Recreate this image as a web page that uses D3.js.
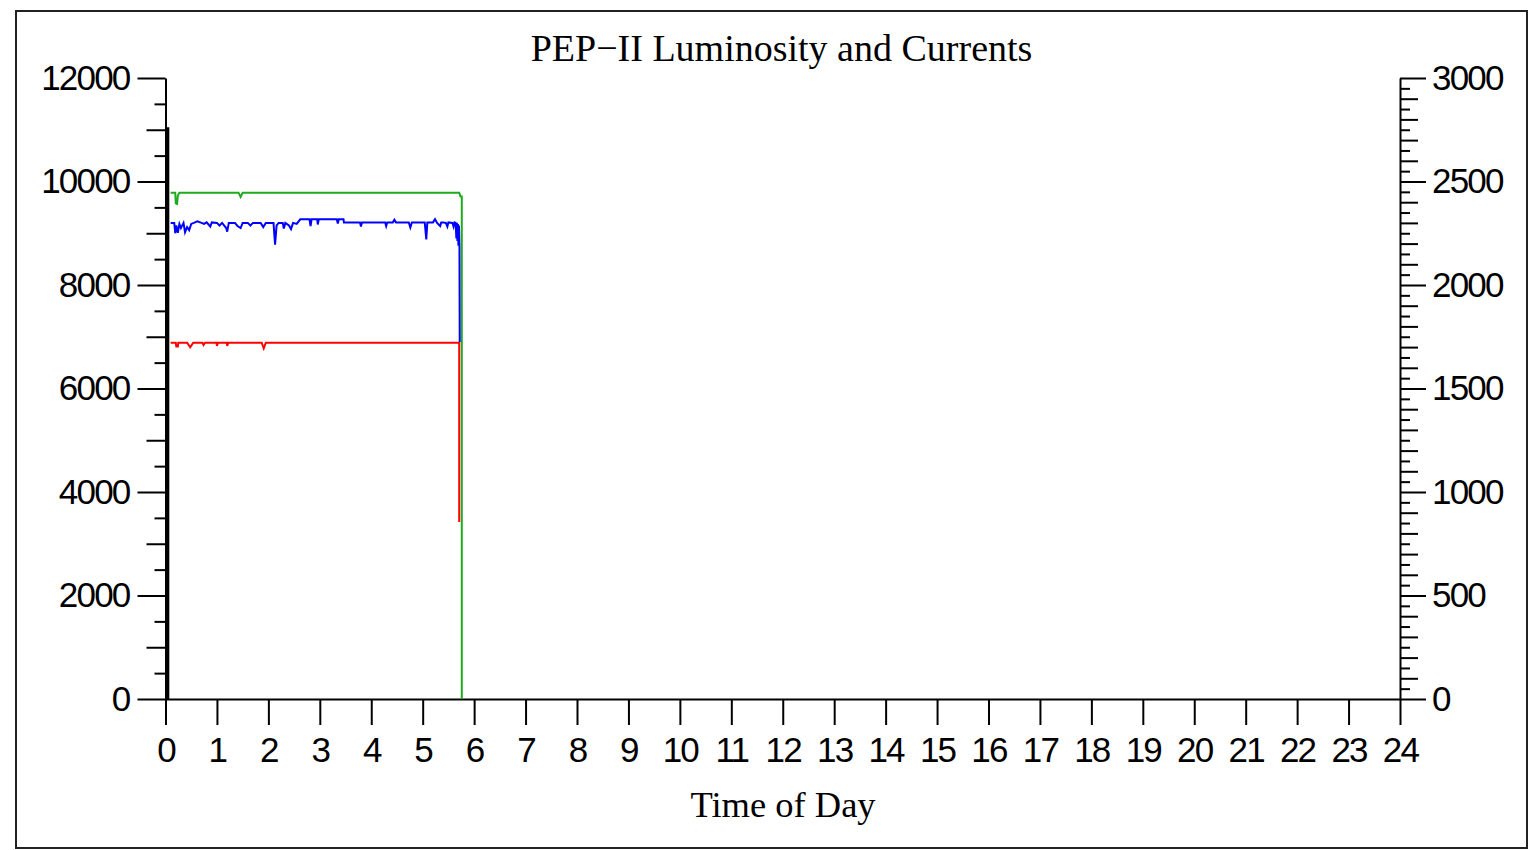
<!DOCTYPE html>
<html>
<head>
<meta charset="utf-8">
<script src="https://cdn.jsdelivr.net/npm/d3@7"></script>
<style>
  html, body { margin: 0; padding: 0; background: #fff; }
  svg { display: block; }
  .tick text { font-family: "Liberation Sans", Arial, sans-serif; font-size: 35px; letter-spacing: -1.8px; fill: #000; }
  .domain, .tick line { stroke: #000; stroke-width: 2; }
</style>
</head>
<body>
<script>
// ---------------- data ----------------
const title = "PEP\u2212II Luminosity and Currents";
const xTitle = "Time of Day";
const xTicks = d3.range(0, 25);              // hours 0..24
const leftTicks = [0, 2000, 4000, 6000, 8000, 10000, 12000];
const rightTicks = [0, 500, 1000, 1500, 2000, 2500, 3000];

// luminosity (left axis) - blue
const lumT = [0.10,0.17,0.19,0.21,0.24,0.27,0.30,0.35,0.38,0.42,0.46,0.50,0.55,0.62,0.70,0.75,0.80,0.87,0.90,1.00,1.05,1.10,1.18,1.20,1.23,1.35,1.40,1.46,1.50,1.60,1.65,1.70,1.85,1.90,1.95,2.10,2.13,2.16,2.20,2.28,2.30,2.33,2.40,2.44,2.48,2.55,2.62,2.80,2.82,2.84,2.95,2.96,2.98,3.33,3.35,3.37,3.46,3.47,3.78,3.80,3.82,4.27,4.29,4.31,4.42,4.45,4.48,4.73,4.76,4.79,5.04,5.07,5.09,5.20,5.24,5.28,5.34,5.36,5.40,5.45,5.48,5.50,5.58,5.60,5.62,5.64,5.655,5.665,5.675,5.685,5.695,5.705,5.715,5.72];
const lumV = [9200,9200,9000,9150,9010,9180,9100,9200,9020,9120,9060,9180,9200,9230,9200,9180,9210,9130,9210,9200,9150,9200,9100,9030,9200,9200,9140,9100,9200,9200,9150,9200,9200,9120,9200,9200,8780,9150,9200,9200,9090,9200,9150,9080,9200,9180,9270,9270,9140,9270,9270,9170,9270,9270,9190,9270,9270,9210,9210,9130,9210,9210,9140,9210,9210,9260,9210,9210,9110,9210,9210,8880,9210,9210,9270,9200,9140,9210,9210,9200,9130,9210,9200,9130,9210,9200,8900,9200,8850,9180,8760,9150,8740,6900];

// LER current (right axis) - green
const lerT = [0.10,0.19,0.20,0.225,0.24,0.27,1.42,1.46,1.50,5.71,5.735,5.76,5.76];
const lerV = [2446,2446,2395,2392,2432,2446,2446,2425,2446,2446,2428,2428,0];

// HER current (right axis) - red
const herT = [0.10,0.20,0.21,0.24,0.25,0.42,0.48,0.54,0.72,0.74,0.77,0.99,1.00,1.02,1.19,1.20,1.22,1.87,1.91,1.95,5.71,5.71];
const herV = [1721,1721,1703,1703,1721,1721,1699,1721,1721,1710,1721,1721,1706,1721,1721,1706,1721,1721,1694,1721,1721,855];

// black trace at start (left axis)
const blkT = [0.045, 0.045];
const blkV = [0, 11050];

// ---------------- layout ----------------
const W = 1534, H = 850;
const svg = d3.select("body").append("svg").attr("width", W).attr("height", H);

// outer frame
svg.append("rect").attr("x", 16).attr("y", 11).attr("width", 1511).attr("height", 837)
  .attr("fill", "none").attr("stroke", "#222").attr("stroke-width", 2);

const x = d3.scaleLinear().domain([0, 24]).range([165.5, 1400]);
const yL = d3.scaleLinear().domain([0, 12000]).range([699, 78]);
const yR = d3.scaleLinear().domain([0, 3000]).range([699, 78]);

// minor ticks (left)
svg.append("g").attr("transform", "translate(165.5,0)")
  .call(d3.axisLeft(yL).tickValues(d3.range(500, 12000, 1000)).tickSize(11).tickSizeOuter(0).tickFormat(""))
  .call(g => g.select(".domain").remove());
svg.append("g").attr("transform", "translate(165.5,0)")
  .call(d3.axisLeft(yL).tickValues(d3.range(1000, 12000, 2000)).tickSize(19).tickSizeOuter(0).tickFormat(""))
  .call(g => g.select(".domain").remove());
// major left
svg.append("g").attr("transform", "translate(165.5,0)")
  .call(d3.axisLeft(yL).tickValues(leftTicks).tickSize(28).tickSizeOuter(0).tickPadding(8).tickFormat(d3.format("d")));

// minor ticks (right)
svg.append("g").attr("transform", "translate(1400,0)")
  .call(d3.axisRight(yR).tickValues(d3.range(50, 3000, 100)).tickSize(10).tickSizeOuter(0).tickFormat(""))
  .call(g => g.select(".domain").remove());
svg.append("g").attr("transform", "translate(1400,0)")
  .call(d3.axisRight(yR).tickValues(d3.range(100, 3000, 100).filter(v => v % 500 !== 0)).tickSize(18).tickSizeOuter(0).tickFormat(""))
  .call(g => g.select(".domain").remove());
svg.append("g").attr("transform", "translate(1400,0)")
  .call(d3.axisRight(yR).tickValues(rightTicks).tickSize(26).tickSizeOuter(0).tickPadding(6).tickFormat(d3.format("d")));

// x axis
svg.append("g").attr("transform", "translate(0,699)")
  .call(d3.axisBottom(x).tickValues(xTicks).tickSize(26).tickSizeOuter(0).tickPadding(12).tickFormat(d3.format("d")));

// series
const mk = (T, V) => T.map((t, i) => [t, V[i]]);
const lineL = d3.line().x(d => x(d[0])).y(d => yL(d[1]));
const lineR = d3.line().x(d => x(d[0])).y(d => yR(d[1]));

svg.append("path").datum(mk(blkT, blkV)).attr("d", lineL)
  .attr("fill", "none").attr("stroke", "#000").attr("stroke-width", 3);
svg.append("path").datum(mk(lerT, lerV)).attr("d", lineR)
  .attr("fill", "none").attr("stroke", "#1faa1f").attr("stroke-width", 2);
svg.append("path").datum(mk(herT, herV)).attr("d", lineR)
  .attr("fill", "none").attr("stroke", "#ff0000").attr("stroke-width", 2);
svg.append("path").datum(mk(lumT, lumV)).attr("d", lineL)
  .attr("fill", "none").attr("stroke", "#0000ff").attr("stroke-width", 2);

// titles
svg.append("text").attr("x", 781.5).attr("y", 61).attr("text-anchor", "middle")
  .style("font-family", "'Liberation Serif', 'Times New Roman', serif").style("font-size", "38px")
  .text(title);
svg.append("text").attr("x", 783).attr("y", 817).attr("text-anchor", "middle")
  .style("font-family", "'Liberation Serif', 'Times New Roman', serif").style("font-size", "36.5px")
  .text(xTitle);
</script>
</body>
</html>
